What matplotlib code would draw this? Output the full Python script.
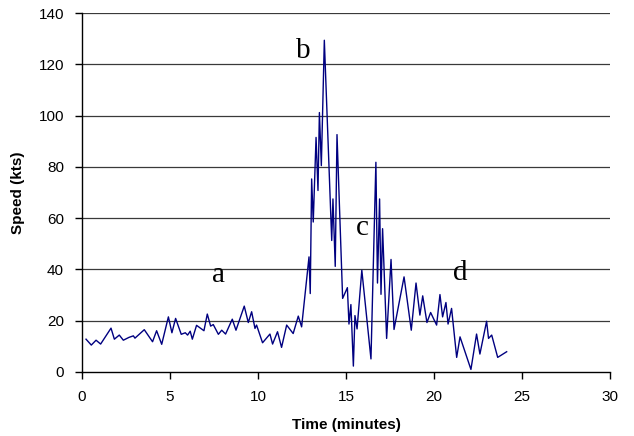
import matplotlib

matplotlib.use("Agg")

import matplotlib.pyplot as plt

# time (minutes) and speed (kts)
TIME = [0.23, 0.53, 0.8, 1.06, 1.65, 1.84, 2.12, 2.35, 2.67, 2.92,
        3.01, 3.54, 4.01, 4.24, 4.53, 4.91, 5.11, 5.32, 5.64, 5.87,
        6.0, 6.15, 6.27, 6.51, 6.93, 7.12, 7.31, 7.46, 7.75, 7.94,
        8.16, 8.54, 8.75, 9.22, 9.45, 9.64, 9.83, 9.92, 10.26, 10.68,
        10.83, 11.11, 11.34, 11.63, 12.0, 12.29, 12.48, 12.90, 12.97, 13.05,
        13.14, 13.30, 13.41, 13.49, 13.6, 13.77, 14.19, 14.26, 14.39, 14.49,
        14.81, 15.08, 15.17, 15.28, 15.42, 15.51, 15.63, 15.90, 16.42, 16.70,
        16.79, 16.91, 16.99, 17.08, 17.31, 17.56, 17.73, 18.3, 18.71, 18.98,
        19.2, 19.36, 19.6, 19.81, 20.15, 20.34, 20.49, 20.68, 20.80, 21.0,
        21.29, 21.48, 22.1, 22.42, 22.61, 22.99, 23.1, 23.28, 23.62, 24.13]

SPEED = [12.8, 10.5, 12.4, 10.9, 17.1, 12.8, 14.4, 12.4, 13.5, 14.1,
         13.2, 16.5, 11.8, 16.1, 10.8, 21.5, 15.3, 20.9, 14.7, 15.3,
         14.4, 15.9, 12.8, 18.2, 16.1, 22.6, 17.9, 18.5, 14.7, 16.3,
         14.8, 20.6, 16.3, 25.7, 19.3, 23.5, 17.0, 18.3, 11.4, 14.8,
         10.9, 15.7, 9.6, 18.3, 15.0, 21.8, 17.6, 44.9, 30.6, 75.3,
         58.5, 91.5, 70.8, 101.2, 80.5, 129.4, 51.3, 67.5, 41.2, 92.6,
         28.7, 32.9, 18.7, 26.3, 2.3, 22.0, 16.8, 39.7, 5.1, 81.8,
         34.7, 67.5, 30.3, 55.9, 13.1, 43.9, 16.6, 37.1, 16.3, 34.7,
         22.2, 29.7, 19.3, 23.2, 18.3, 30.2, 21.5, 27.1, 18.7, 24.8,
         5.7, 13.7, 1.0, 14.8, 7.0, 19.8, 13.1, 14.4, 5.7, 7.9]

# phase annotations
PHASE_LABELS = ["a", "b", "c", "d"]
PHASE_X = [7.73, 12.56, 15.91, 21.48]
PHASE_Y = [37.7, 125.2, 56.0, 38.5]

X_TICKS = [0, 5, 10, 15, 20, 25, 30]
Y_TICKS = [0, 20, 40, 60, 80, 100, 120, 140]


def main() -> None:
    plt.rcParams["font.family"] = ["Liberation Sans", "DejaVu Sans"]

    fig = plt.figure(figsize=(6.34, 4.36), dpi=100, facecolor="white")
    ax = fig.add_axes([0.1293, 0.1468, 0.9621 - 0.1293, 0.970 - 0.1468])

    for y in Y_TICKS[1:]:
        ax.axhline(y, color="#3a3a3a", linewidth=0.9, zorder=1)

    ax.plot(TIME, SPEED, color="#000080", linewidth=1.0, zorder=3)

    for lab, x, y in zip(PHASE_LABELS, PHASE_X, PHASE_Y):
        ax.text(x, y, lab, ha="center", va="center", fontsize=21,
                family=["Liberation Serif", "DejaVu Serif"], color="black")

    ax.set_xlim(0, 30)
    ax.set_ylim(0, 140)
    ax.set_xticks(X_TICKS)
    ax.set_yticks(Y_TICKS)
    ax.tick_params(direction="out", length=5, width=1, labelsize=11, pad=8)
    ax.tick_params(axis="x", pad=8)

    ax.spines["top"].set_visible(False)
    ax.spines["right"].set_visible(False)
    for side in ["left", "bottom"]:
        ax.spines[side].set_linewidth(1.0)
        ax.spines[side].set_color("black")

    ax.set_xlabel("Time (minutes)", fontsize=11, fontweight="bold", labelpad=10)
    ax.set_ylabel("Speed (kts)", fontsize=11, fontweight="bold", labelpad=10)

    fig.savefig("out.png", dpi=100, facecolor="white")
    plt.close(fig)


if __name__ == "__main__":
    main()
